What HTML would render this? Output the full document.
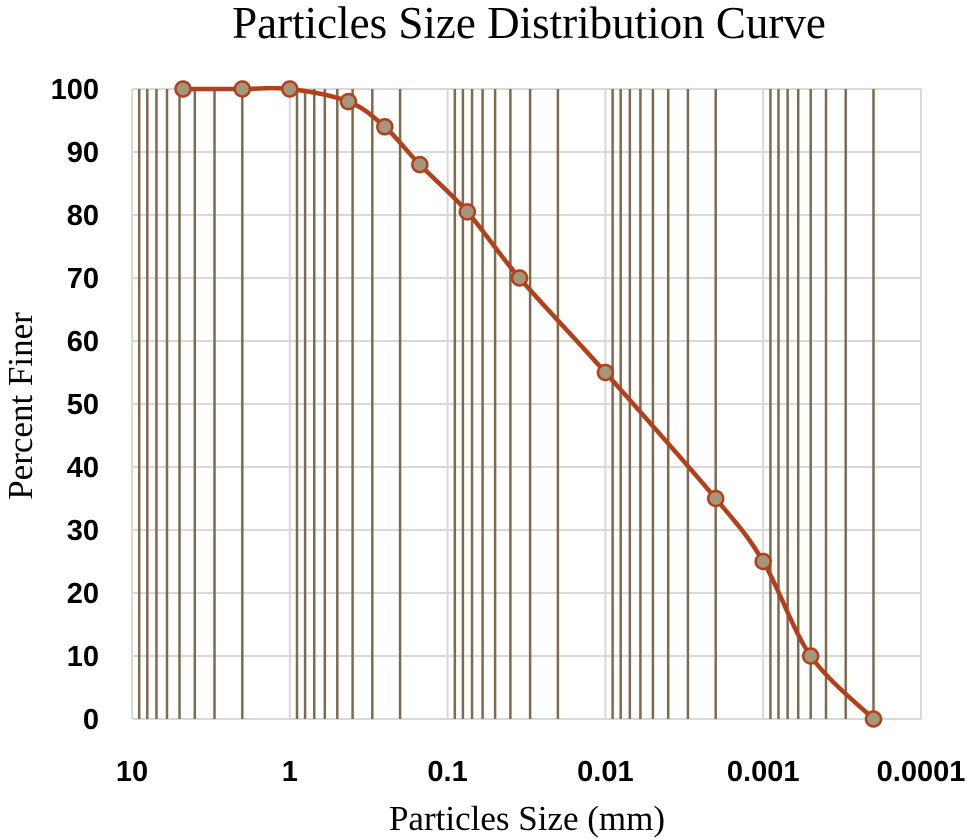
<!DOCTYPE html>
<html><head><meta charset="utf-8"><style>
body{margin:0;background:#fff}
svg{display:block}
</style></head><body>
<svg width="971" height="840" viewBox="0 0 971 840" xmlns="http://www.w3.org/2000/svg">
<text x="529" y="38" text-anchor="middle" font-family="Liberation Serif, serif" font-size="45">Particles Size Distribution Curve</text>
<g id="grid"></g>
<g id="yticks"></g>
<g id="xticks"></g>
<g id="series"></g>
<text x="527" y="830" text-anchor="middle" font-family="Liberation Serif, serif" font-size="35">Particles Size (mm)</text>
<text transform="translate(32,406) rotate(-90)" text-anchor="middle" font-family="Liberation Serif, serif" font-size="35">Percent Finer</text>
</svg>
<script>
const sizes = [4.75, 2, 1, 0.425, 0.25, 0.15, 0.075, 0.035, 0.01, 0.002, 0.001, 0.0005, 0.0002];
const percentFiner = [100, 100, 100, 98, 94, 88, 80.5, 70, 55, 35, 25, 10, 0];
const yTicks = [0, 10, 20, 30, 40, 50, 60, 70, 80, 90, 100];
const xTicks = [10, 1, 0.1, 0.01, 0.001, 0.0001];
const xTickLabels = ['10', '1', '0.1', '0.01', '0.001', '0.0001'];

const L=132, R=921, T=89, B=719;
const NS='http://www.w3.org/2000/svg';
const xMax=Math.log10(10), xMin=Math.log10(0.0001);
function X(v){return L+(xMax-Math.log10(v))/(xMax-xMin)*(R-L);}
function Y(v){return B-(v-0)/(100-0)*(B-T);}
function mk(tag,attrs,parent){const e=document.createElementNS(NS,tag);for(const k in attrs)e.setAttribute(k,attrs[k]);parent.appendChild(e);return e;}

const grid=document.getElementById('grid');
yTicks.forEach(t=>{
  const l=mk('line',{x1:L,x2:R,y1:Y(t),y2:Y(t),stroke:'#d9d9d9','stroke-width':2},grid);
  
  
});
xTicks.forEach(t=>{
  const l=mk('line',{x1:X(t),x2:X(t),y1:T,y2:B,stroke:'#d9d9d9','stroke-width':2},grid);
  
  
});
for(let d=0; d<xTicks.length-1; d++){
  for(let m=2;m<=9;m++){
    const v=xTicks[d+1]*m;
    const l=mk('line',{x1:X(v),x2:X(v),y1:T,y2:B,stroke:'#7d6b4f','stroke-width':2.5},grid);
    
    
  }
}
const yt=document.getElementById('yticks');
yTicks.forEach(t=>{
  const e=mk('text',{x:99,y:Y(t)+10,'text-anchor':'end','font-family':'Liberation Sans, sans-serif','font-size':29,'font-weight':'bold'},yt);
  e.textContent=t;
  
  
});
const xt=document.getElementById('xticks');
xTicks.forEach((t,i)=>{
  const e=mk('text',{x:X(t),y:781,'text-anchor':'middle','font-family':'Liberation Sans, sans-serif','font-size':29,'font-weight':'bold'},xt);
  e.textContent=xTickLabels[i];
  
  
});
const s=document.getElementById('series');
const pts=sizes.map((v,i)=>[X(v),Y(percentFiner[i])]);
let d='M'+pts[0][0]+','+pts[0][1];
const k=1/6;
for(let i=0;i<pts.length-1;i++){
  const p0=pts[Math.max(0,i-1)],p1=pts[i],p2=pts[i+1],p3=pts[Math.min(pts.length-1,i+2)];
  const c1=[p1[0]+(p2[0]-p0[0])*k,p1[1]+(p2[1]-p0[1])*k];
  const c2=[p2[0]-(p3[0]-p1[0])*k,p2[1]-(p3[1]-p1[1])*k];
  d+=' C'+c1+' '+c2+' '+p2;
}
const path=mk('path',{d:d,fill:'none',stroke:'#b3401a','stroke-width':4.5,'stroke-linejoin':'round'},s);


pts.forEach(p=>{
  const c=mk('circle',{cx:p[0],cy:p[1],r:7.5,fill:'#a6967a',stroke:'#b3401a','stroke-width':2.5},s);
  
  
});
</script>
</body></html>
